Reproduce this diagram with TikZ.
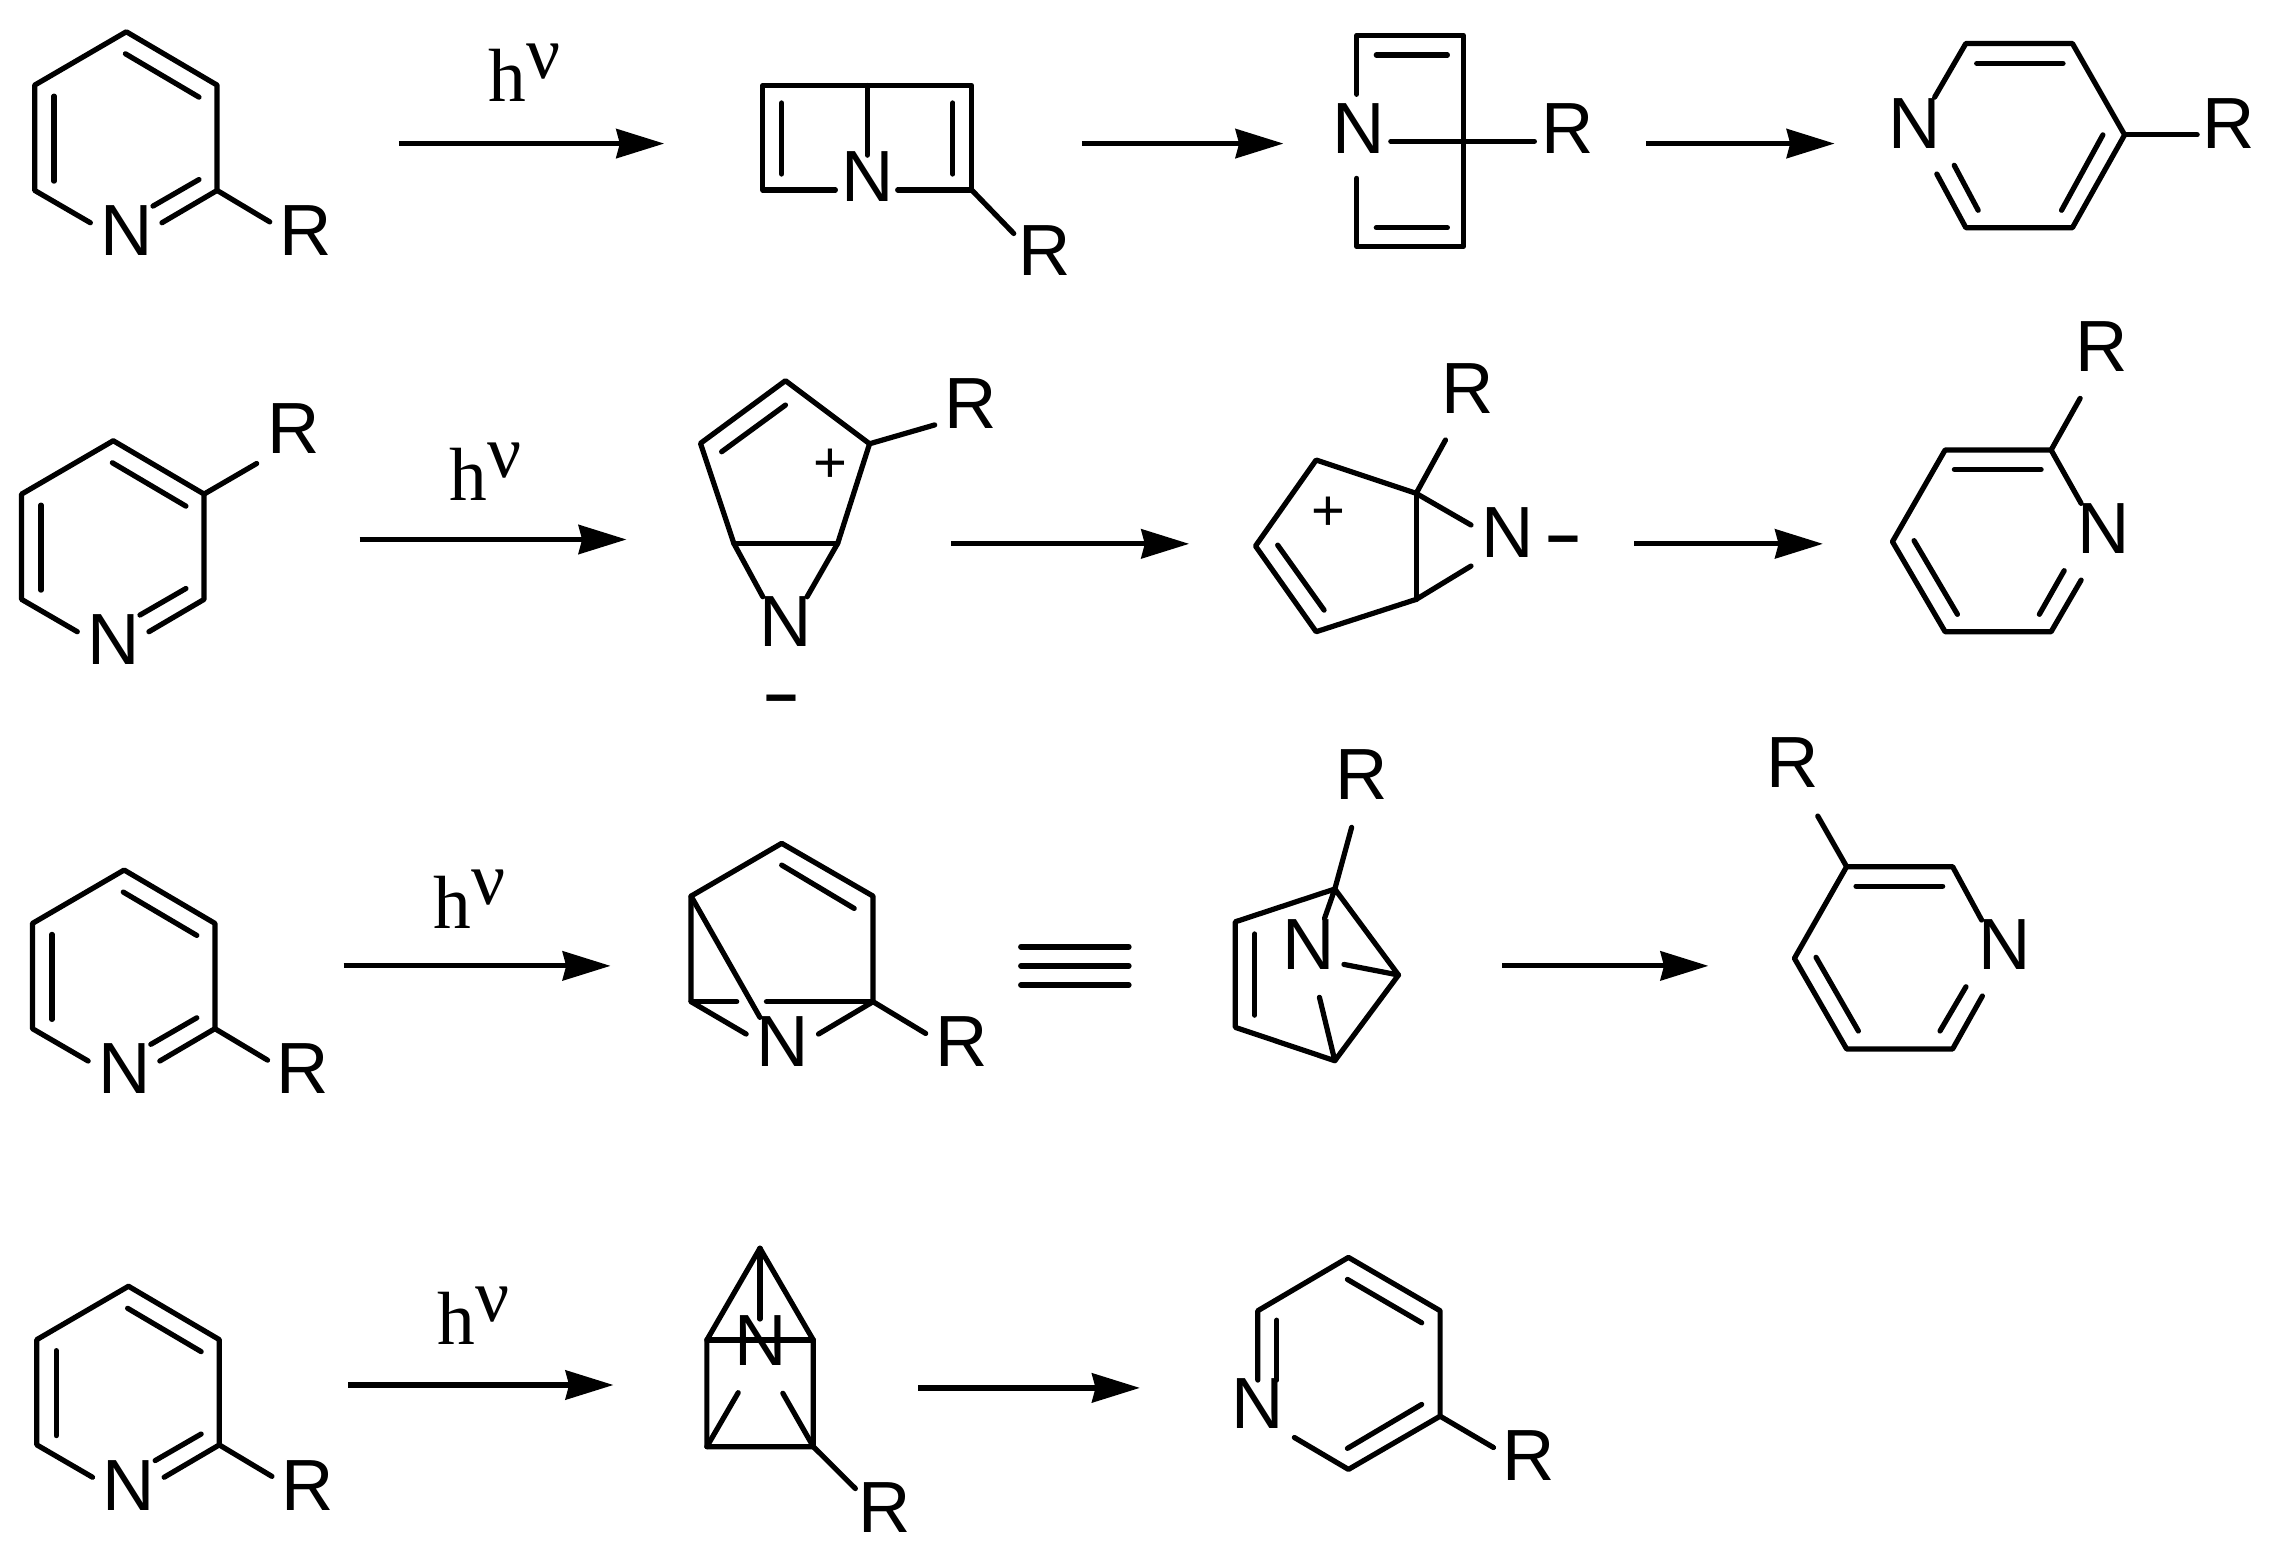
\documentclass[tikz,border=0pt]{standalone}
\usepackage{fontspec}
\setmainfont{Liberation Sans}
\newfontfamily\serifhv{Liberation Serif}
\usetikzlibrary{arrows.meta}
\tikzset{
  bond/.style={line width=1.8pt,line cap=round,line join=round,black},
  rxn/.style={line width=1.8pt,black,-{Stealth[length=16.5pt,width=10pt,inset=1.2pt]}},
  atom/.style={inner sep=0pt,outer sep=0pt,font=\fontsize{25}{25}\selectfont,black},
  sign/.style={inner sep=0pt,outer sep=0pt,anchor=base,font=\fontsize{20}{20}\selectfont,black},
  minussign/.style={sign,font=\bfseries\fontsize{20}{20}\selectfont},
  hvlabel/.style={inner sep=0pt,outer sep=0pt,anchor=base west,font=\serifhv\fontsize{26}{26}\selectfont,black},
  tribar/.style={line width=2pt,line cap=round,black}
}
\newcommand{\pyrA}[3]{%
  \begin{scope}[shift={(#1,#2)}]
    \draw[bond] (62.3,153.6) -- (23.9,131.3) -- (23.9,58.7) -- (87.1,21.9) -- (149.7,58.7) -- (149.7,131.3) -- (111.7,153.6);
    \draw[bond] (37.3,66.3) -- (37.3,124.9);
    \draw[bond] (86.5,37.1) -- (137.2,67);
    \draw[bond] (137.2,123.8) -- (105.5,142.1);
    \draw[bond] (149.7,131.3) -- (186,153);
    \node[atom] (n#3) at (87.4,159) {N};
    \node[atom] (r#3) at (210.5,159) {R};
  \end{scope}}
\newcommand{\rxnarrow}[4]{%
  \coordinate (#1s) at (#2,#4);
  \coordinate (#1e) at (#3,#4);
  \draw[rxn] (#1s) -- (#1e);}
\begin{document}
\begin{tikzpicture}[x=0.5pt,y=-0.5pt]
\fill[white] (0,0) rectangle (1568,1075);
\useasboundingbox (0,0) rectangle (1568,1075);

% arrows
\rxnarrow{aa}{275}{458}{99}
\rxnarrow{ab}{746}{885}{99}
\rxnarrow{ac}{1135}{1265}{99}
\rxnarrow{ba}{248}{432}{372}
\rxnarrow{bb}{656}{820}{375}
\rxnarrow{bc}{1127}{1257}{375}
\rxnarrow{ca}{237}{421}{666}
\rxnarrow{cb}{1036}{1178}{666}
\rxnarrow{da}{240}{423}{955}
\rxnarrow{db}{633}{786}{957}

% h nu labels
\node[hvlabel] (hva) at (337,70) {h\raisebox{8pt}{ν}};
\node[hvlabel] (hvb) at (310,345) {h\raisebox{8pt}{ν}};
\node[hvlabel] (hvc) at (299,640) {h\raisebox{8pt}{ν}};
\node[hvlabel] (hvd) at (302,927) {h\raisebox{8pt}{ν}};

% row 1
\pyrA{0}{0}{one}
\draw[bond] (576,131) -- (526,131) -- (526,59) -- (670,59) -- (670,131) -- (619,131);
\draw[bond] (598,59) -- (598,107);
\draw[bond] (539,71) -- (539,120);
\draw[bond] (657,71) -- (657,120);
\draw[bond] (670,131) -- (699,161);
\node[atom] (ntwo) at (598,122) {N};
\node[atom] (rtwo) at (720,173) {R};

\draw[bond] (935.5,65) -- (935.5,24.4) -- (1009,24.4) -- (1009,170) -- (935.5,170) -- (935.5,123);
\draw[bond] (949,38) -- (998,38);
\draw[bond] (949,157) -- (998,157);
\draw[bond] (959,97.5) -- (1058,97.5);
\node[atom] (nthree) at (937,88.5) {N};
\node[atom] (rthree) at (1081,88.5) {R};

\draw[bond] (1334,67) -- (1355.5,30) -- (1429,30) -- (1465,93) -- (1429,157) -- (1355.5,157) -- (1335.5,120);
\draw[bond] (1363,43.7) -- (1422.5,43.7);
\draw[bond] (1347.5,114) -- (1364,145);
\draw[bond] (1450,93) -- (1421.5,145);
\draw[bond] (1465,93) -- (1515,93);
\node[atom] (nfour) at (1320,85) {N};
\node[atom] (rfour) at (1537,85) {R};

% row 2
\draw[bond] (53.3,435.6) -- (14.9,413.3) -- (14.9,340.7) -- (78.1,303.9) -- (140.7,340.7) -- (140.7,413.3) -- (102.7,435.6);
\draw[bond] (28.3,348.3) -- (28.3,406.9);
\draw[bond] (77.5,319.1) -- (128.2,349);
\draw[bond] (128.2,405.8) -- (96.5,424.1);
\draw[bond] (140.7,340.7) -- (177,319.6);
\node[atom] (nfive) at (78.4,441) {N};
\node[atom] (rfive) at (202.3,295.5) {R};

\draw[bond] (526,411.5) -- (506,374.7) -- (483,305.7) -- (541.6,262.5) -- (599.6,306) -- (577.6,374.7) -- (556.5,411.5);
\draw[bond] (506,374.7) -- (577.6,374.7);
\draw[bond] (541.6,279.3) -- (497.6,311.5);
\draw[bond] (599.6,306) -- (644.5,293);
\node[atom] (nsix) at (542,428.7) {N};
\node[atom] (rsix) at (669,278) {R};
\node[sign] (psix) at (572.8,332.4) {+};
\node[minussign] (msix) at (539,495) {−};

\draw[bond] (1014.3,362) -- (976.5,340.2) -- (907.5,317.2) -- (865.7,376.5) -- (907.5,435.6) -- (976.5,413.3) -- (1014.3,390.3);
\draw[bond] (976.5,340.2) -- (976.5,413.3);
\draw[bond] (881,375.9) -- (913,420.7);
\draw[bond] (976.5,340.2) -- (996.7,303.4);
\node[atom] (nseven) at (1039.6,367) {N};
\node[atom] (rseven) at (1011.8,268) {R};
\node[sign] (pseven) at (915.8,366) {+};
\node[minussign] (mseven) at (1078,385) {−};

\draw[bond] (1435,347.1) -- (1414.3,310.3) -- (1341.2,310.3) -- (1304.9,373.5) -- (1341.2,435.6) -- (1414.3,435.6) -- (1435,400);
\draw[bond] (1347.6,323.7) -- (1407.4,323.7);
\draw[bond] (1319.8,372.8) -- (1349.7,423.6);
\draw[bond] (1423.3,393.5) -- (1406.2,423.6);
\draw[bond] (1414.3,310.3) -- (1434.3,274.7);
\node[atom] (neight) at (1450.3,364.4) {N};
\node[atom] (reight) at (1449,239) {R};

% row 3
\pyrA{-1.5}{578}{nine}
\draw[bond] (514.5,713) -- (476.5,690.7) -- (476.5,617.9) -- (539,581.5) -- (602,617.9) -- (602,690.7) -- (564.4,713);
\draw[bond] (476.5,690.7) -- (508,690.7);
\draw[bond] (528.5,690.7) -- (602,690.7);
\draw[bond] (476.5,617.9) -- (524,701.5);
\draw[bond] (539,596.5) -- (589,626.4);
\draw[bond] (602,690.7) -- (638.3,712.6);
\node[atom] (nten) at (539.5,718) {N};
\node[atom] (rten) at (663,718) {R};

\coordinate (tra) at (704,652.8); \coordinate (trb) at (778.3,652.8);
\coordinate (trc) at (704,666); \coordinate (trd) at (778.3,666);
\coordinate (tre) at (704,679.2); \coordinate (trf) at (778.3,679.2);
\draw[tribar] (tra) -- (trb);
\draw[tribar] (trc) -- (trd);
\draw[tribar] (tre) -- (trf);

\draw[bond] (913.3,633.3) -- (920.4,613) -- (851.8,635.6) -- (851.8,708.4) -- (920.4,731.4) -- (964.3,672.3) -- (920.4,613);
\draw[bond] (865.2,644) -- (865.2,700);
\draw[bond] (926.7,665) -- (964.3,672.3);
\draw[bond] (909.8,687.7) -- (920.4,731.4);
\draw[bond] (920.4,613) -- (932,570.5);
\node[atom] (neleven) at (902.5,651) {N};
\node[atom] (releven) at (938.7,534) {R};

\draw[bond] (1366.4,634.4) -- (1346.4,597.6) -- (1273.3,597.6) -- (1237.3,660.8) -- (1273.3,723.3) -- (1346.4,723.3) -- (1366.9,686.8);
\draw[bond] (1279.8,611) -- (1339.5,611);
\draw[bond] (1252.2,660.1) -- (1281.4,710.9);
\draw[bond] (1355.6,680.4) -- (1337.7,710.9);
\draw[bond] (1273.3,597.6) -- (1253.4,562.7);
\node[atom] (ntwelve) at (1382.3,651) {N};
\node[atom] (rtwelve) at (1236.4,525.6) {R};

% row 4
\pyrA{1.5}{865}{thirteen}
\draw[bond] (487.4,924) -- (524,860.7) -- (560.8,924) -- (560.8,997.5) -- (487.4,997.5) -- cycle;
\draw[bond] (487.4,924) -- (560.8,924);
\draw[bond] (524,860.7) -- (524,909.5);
\draw[bond] (487.4,997.5) -- (509,960.3);
\draw[bond] (560.8,997.5) -- (539.8,960.7);
\draw[bond] (560.8,997.5) -- (589.8,1026.4);
\node[atom] (nfourteen) at (524.5,924.5) {N};
\node[atom] (rfourteen) at (610,1039.5) {R};

\draw[bond] (892.5,991.2) -- (929.8,1013.2) -- (993,976.5) -- (993,903.8) -- (929.8,867) -- (867.3,903.8) -- (867.3,951.6);
\draw[bond] (880.4,910.3) -- (880.4,951.6);
\draw[bond] (929.1,882.2) -- (980.3,912.1);
\draw[bond] (980.3,968.4) -- (929.1,998.7);
\draw[bond] (993,976.5) -- (1029.8,998.1);
\node[atom] (nfifteen) at (867.4,967.7) {N};
\node[atom] (rfifteen) at (1054.4,1003.6) {R};
\end{tikzpicture}
\end{document}
